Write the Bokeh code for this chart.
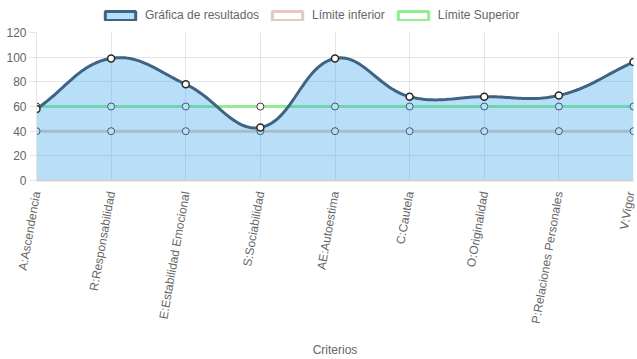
import numpy as np
from bokeh.plotting import figure
from bokeh.layouts import column
from bokeh.models import Range1d, FixedTicker, Legend, LegendItem
from bokeh.embed import file_html
from bokeh.resources import INLINE

# ---- data ----
categorias = ["A:Ascendencia", "R:Responsabilidad", "E:Estabilidad Emocional",
              "S:Sociabilidad", "AE:Autoestima", "C:Cautela", "O:Originalidad",
              "P:Relaciones Personales", "V:Vigor"]
resultados = [58, 99, 78, 43, 99, 68, 68, 69, 96]
limite_inferior = [40, 40, 40, 40, 40, 40, 40, 40, 40]
limite_superior = [60, 60, 60, 60, 60, 60, 60, 60, 60]
y_ticks = [0, 20, 40, 60, 80, 100, 120]
nombres = ["Gráfica de resultados", "Límite inferior", "Límite Superior"]
titulo_x = "Criterios"

FONT = "Liberation Sans"
W = 637
LH = 24                      # legend strip height
H = 359 - LH
ML, MR, MT, MB = 36, 4, 8, 179
FW, FH = W - ML - MR, H - MT - MB

xs = list(range(len(categorias)))
Y0, Y1 = y_ticks[0], y_ticks[-1]


def chartjs_curve(xv, yv, sx, sy, tension=0.4, nseg=30):
    """Chart.js-style bezier smoothing computed in pixel space."""
    P = np.column_stack([np.asarray(xv, float) * sx, np.asarray(yv, float) * sy])
    n = len(P)
    cprev, cnext = [], []
    for i in range(n):
        prv = P[max(i - 1, 0)]
        cur = P[i]
        nxt = P[min(i + 1, n - 1)]
        d01 = np.hypot(*(cur - prv))
        d12 = np.hypot(*(nxt - cur))
        tot = d01 + d12
        s01 = d01 / tot if tot else 0.0
        s12 = d12 / tot if tot else 0.0
        a = cur - tension * s01 * (nxt - prv)
        b = cur + tension * s12 * (nxt - prv)
        a[1] = min(max(a[1], Y0 * sy), Y1 * sy)
        b[1] = min(max(b[1], Y0 * sy), Y1 * sy)
        cprev.append(a)
        cnext.append(b)
    t = np.linspace(0, 1, nseg)[:, None]
    pts = [P[:1]]
    for i in range(n - 1):
        p0, p1, p2, p3 = P[i], cnext[i], cprev[i + 1], P[i + 1]
        seg = ((1 - t) ** 3) * p0 + 3 * ((1 - t) ** 2) * t * p1 + 3 * (1 - t) * t ** 2 * p2 + t ** 3 * p3
        pts.append(seg[1:])
    pts = np.vstack(pts)
    return pts[:, 0] / sx, pts[:, 1] / sy


sx = FW / (len(categorias) - 1)
sy = FH / (Y1 - Y0)
cx, cy = chartjs_curve(xs, resultados, sx, sy)

p = figure(width=W, height=H, output_backend="svg", toolbar_location=None,
           x_range=Range1d(0, len(categorias) - 1), y_range=Range1d(Y0, Y1),
           min_border_left=ML, min_border_right=MR, min_border_top=MT,
           min_border_bottom=MB)
p.outline_line_color = None
p.background_fill_color = "white"
p.border_fill_color = "white"

GRID = "#e5e5e5"
p.xaxis.ticker = FixedTicker(ticks=xs)
p.xgrid.ticker = FixedTicker(ticks=xs)
p.yaxis.ticker = FixedTicker(ticks=y_ticks)
p.ygrid.ticker = FixedTicker(ticks=y_ticks)
p.xgrid.grid_line_color = GRID
p.ygrid.grid_line_color = GRID
p.xaxis.major_label_overrides = {i: c for i, c in enumerate(categorias)}
p.xaxis.major_label_orientation = float(np.deg2rad(80))
p.xaxis.major_tick_out = 0
p.xaxis.major_tick_in = 0
p.xaxis.minor_tick_line_color = None
p.xaxis.axis_line_color = "#d2d2d2"
p.xaxis.axis_line_width = 2
p.xaxis.major_label_standoff = 11
p.xaxis.axis_label = titulo_x
p.xaxis.axis_label_standoff = 14
p.xaxis.axis_label_text_font_style = "normal"

p.yaxis.major_tick_out = 7
p.yaxis.major_tick_in = 0
p.yaxis.major_tick_line_color = GRID
p.yaxis.minor_tick_line_color = None
p.yaxis.axis_line_color = GRID
p.yaxis.major_label_standoff = 3

for ax in (p.xaxis, p.yaxis):
    ax.major_label_text_font = FONT
    ax.major_label_text_font_size = "12px"
    ax.major_label_text_color = "#666666"
    ax.axis_label_text_font = FONT
    ax.axis_label_text_font_size = "12px"
    ax.axis_label_text_color = "#666666"

COL_RES = "#3e6383"
COL_FILL = (54, 162, 235)
COL_INF = "#e6c9bb"
COL_SUP = "#90ee90"

# upper limit (drawn first, under the fill)
p.line(xs, limite_superior, line_color=COL_SUP, line_width=3)
p.scatter(xs, limite_superior, size=7, fill_color="white", line_color="#3a3a3a", line_width=1)
# lower limit
p.line(xs, limite_inferior, line_color=COL_INF, line_width=3)
p.scatter(xs, limite_inferior, size=7, fill_color="white", line_color="#3a3a3a", line_width=1)
# results
p.varea(x=cx, y1=np.zeros_like(cy), y2=cy, fill_color=COL_FILL, fill_alpha=0.35)
p.line(cx, cy, line_color=COL_RES, line_width=3)
p.scatter(xs, resultados, size=7, fill_color="white", line_color="#2a2a2a", line_width=1.5)

# ---- legend strip (separate small figure on top) ----
lg = figure(width=W, height=LH, output_backend="svg", toolbar_location=None,
            x_range=Range1d(0, 1), y_range=Range1d(0, 1),
            min_border_left=0, min_border_right=0, min_border_top=0, min_border_bottom=0)
lg.axis.visible = False
lg.grid.visible = False
lg.outline_line_color = None
lg.background_fill_color = "white"
lg.border_fill_color = "white"

NAN = [float("nan")]
r1 = lg.quad(left=NAN, right=NAN, top=NAN, bottom=NAN, fill_color=COL_FILL, fill_alpha=0.35,
             line_color=COL_RES, line_width=3)
r2 = lg.quad(left=NAN, right=NAN, top=NAN, bottom=NAN, fill_color="white", fill_alpha=0,
             line_color=COL_INF, line_width=3)
r3 = lg.quad(left=NAN, right=NAN, top=NAN, bottom=NAN, fill_color="white", fill_alpha=0,
             line_color=COL_SUP, line_width=3)
legend = Legend(items=[LegendItem(label=nombres[0], renderers=[r1]),
                       LegendItem(label=nombres[1], renderers=[r2]),
                       LegendItem(label=nombres[2], renderers=[r3])],
                orientation="horizontal", location=(65, 2),
                label_text_font=FONT, label_text_font_size="12px",
                label_text_color="#666666", border_line_color=None,
                background_fill_alpha=0, padding=0, margin=0, spacing=9,
                label_standoff=6, glyph_width=38, glyph_height=11,
                label_height=12)
lg.add_layout(legend, "center")

layout = column(lg, p, spacing=0)
open("out.html", "w").write(file_html(layout, INLINE))
